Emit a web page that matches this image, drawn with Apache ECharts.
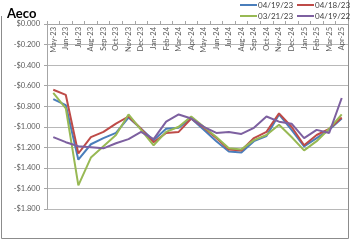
<!DOCTYPE html>
<html>
<head>
<meta charset="utf-8">
<script src="https://cdn.jsdelivr.net/npm/echarts@6/dist/echarts.min.js"></script>
<style>
  html, body { margin: 0; padding: 0; background: #fff; }
  #chart { width: 350px; height: 240px; }
</style>
</head>
<body>
<div id="chart"></div>
<script>
// months on the x axis
var months = ['May-23','Jun-23','Jul-23','Aug-23','Sep-23','Oct-23','Nov-23','Dec-23',
  'Jan-24','Feb-24','Mar-24','Apr-24','May-24','Jun-24','Jul-24','Aug-24','Sep-24','Oct-24',
  'Nov-24','Dec-24','Jan-25','Feb-25','Mar-25','Apr-25'];

// curves
var c041923 = [-0.73,-0.79,-1.32,-1.17,-1.11,-1.06,-0.91,-1.02,-1.13,-1.02,-1.01,-0.92,
  -1.03,-1.14,-1.24,-1.25,-1.14,-1.09,-0.88,-1.03,-1.19,-1.11,-1.03,-0.92];
var c041823 = [-0.64,-0.69,-1.26,-1.10,-1.05,-0.97,-0.90,-1.02,-1.15,-1.06,-1.05,-0.92,
  -1.01,-1.11,-1.22,-1.23,-1.11,-1.05,-0.87,-1.00,-1.18,-1.08,-1.02,-0.91];
var c032123 = [-0.67,-0.82,-1.57,-1.30,-1.19,-1.08,-0.88,-1.03,-1.18,-1.05,-1.00,-0.90,
  -1.00,-1.10,-1.21,-1.22,-1.13,-1.08,-0.98,-1.10,-1.23,-1.14,-1.02,-0.88];
var c041922 = [-1.10,-1.15,-1.19,-1.20,-1.21,-1.16,-1.12,-1.05,-1.12,-0.95,-0.88,-0.92,
  -1.00,-1.06,-1.05,-1.07,-1.01,-0.90,-0.95,-0.97,-1.11,-1.03,-1.06,-0.72];

var names = ['04/19/23','04/18/23','03/21/23','04/19/22'];
var colors = ['#4a7ebb','#be4b48','#98b954','#7d60a0'];
var curves = [c041923, c041823, c032123, c041922];

var font = 'Lato, "Open Sans", sans-serif';

// $0.000 / -$0.200 style labels
function money(v){
  if (Math.abs(v) < 1e-9) return '$0.000';
  return (v < 0 ? '-$' : '$') + Math.abs(v).toFixed(3);
}

var series = [];
for (var i = 0; i < curves.length; i++) {
  series.push({
    name: names[i],
    type: 'line',
    data: curves[i],
    symbol: 'none',
    lineStyle: { color: colors[i], width: 2 },
    itemStyle: { color: colors[i] }
  });
}

// one legend per entry so they sit in a 2x2 block
var legendPos = [[240, 1], [297, 1], [240, 12], [297, 12]];
var legends = [];
for (var j = 0; j < names.length; j++) {
  legends.push({
    left: legendPos[j][0], top: legendPos[j][1], padding: 0,
    icon: 'rect', itemWidth: 17, itemHeight: 2,
    textStyle: { fontFamily: font, fontSize: 8, color: '#404040', padding: [0, 0, 0, -4] },
    data: [names[j]]
  });
}

var myChart = echarts.init(document.getElementById('chart'));
myChart.setOption({
  animation: false,
  title: {
    text: 'Aeco', left: 2, top: 2,
    textStyle: { fontFamily: font, fontSize: 13, fontWeight: 'bold', color: '#000' }
  },
  legend: legends,
  grid: { left: 47, right: 2, top: 24, bottom: 31 },
  xAxis: {
    type: 'category',
    position: 'top',
    data: months,
    boundaryGap: true,
    axisLine: { lineStyle: { color: '#a6a6a6' } },
    axisTick: { show: true, length: 3, lineStyle: { color: '#a6a6a6' } },
    axisLabel: {
      inside: true, rotate: 90, interval: 0, margin: 3,
      fontFamily: font, fontSize: 7.5, color: '#595959'
    }
  },
  yAxis: {
    type: 'value',
    min: -1.8, max: 0, interval: 0.2,
    axisLine: { show: true, lineStyle: { color: '#a6a6a6' } },
    axisTick: { show: true, length: 3, lineStyle: { color: '#a6a6a6' } },
    splitLine: { lineStyle: { color: '#b8b8b8' } },
    axisLabel: { formatter: money, margin: 7, fontFamily: font, fontSize: 7.5, color: '#595959' }
  },
  graphic: [{
    type: 'polyline',
    shape: { points: [[1.5,16],[1.5,238.5],[348.5,238.5],[348.5,0]] },
    style: { stroke: '#8c8c8c', fill: null, lineWidth: 1 },
    silent: true
  }],
  series: series
});
</script>
</body>
</html>
